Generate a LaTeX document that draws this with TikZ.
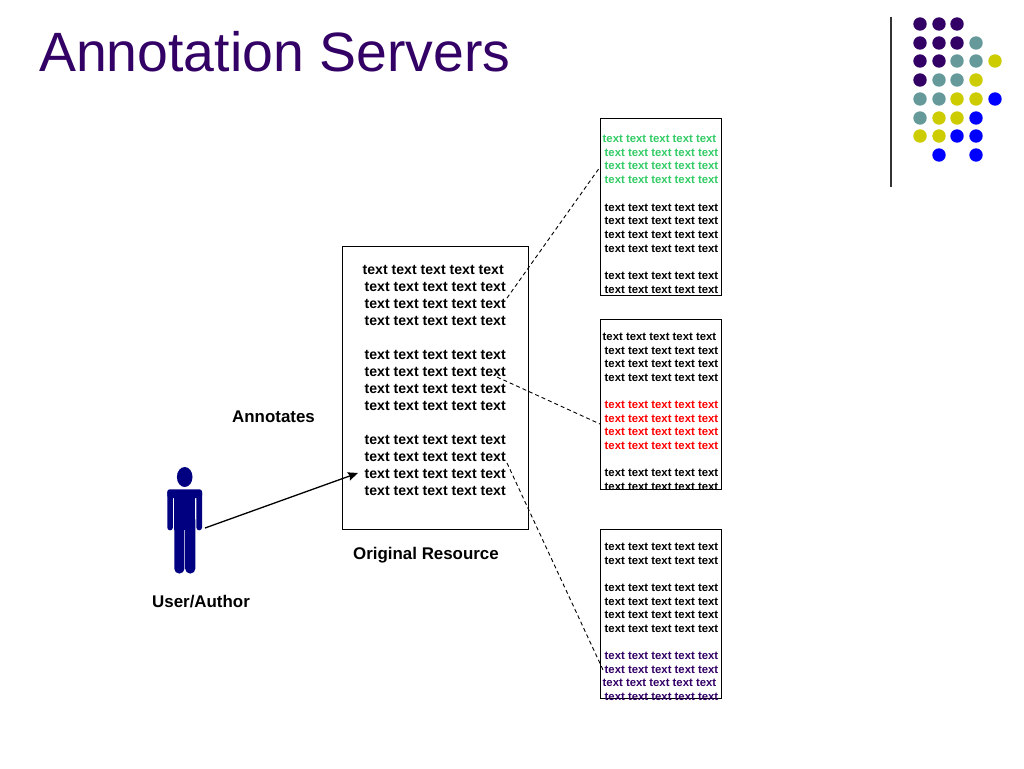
\documentclass[tikz,border=0pt]{standalone}
\usepackage{fontspec}
\setmainfont{Liberation Sans}
\definecolor{deep}{HTML}{330066}
\definecolor{teal2}{HTML}{669999}
\definecolor{yel}{HTML}{CCCC00}
\definecolor{blu}{HTML}{0000FF}
\definecolor{grn}{HTML}{33CC66}
\definecolor{navy2}{HTML}{000080}
\usetikzlibrary{arrows.meta}
\tikzset{
  x=1pt,y=-1pt,
  box/.style={draw=black,line width=1pt,minimum width=0pt,inner sep=0pt,anchor=north west},
  bigline/.style={anchor=base west,inner sep=0pt,font=\fontsize{14.1}{17}\selectfont\bfseries},
  smallline/.style={anchor=base west,inner sep=0pt,font=\fontsize{11.35}{13.7}\selectfont\bfseries},
  label/.style={anchor=base west,inner sep=0pt,font=\fontsize{16.9}{20}\selectfont\bfseries},
  dot/.style={circle,inner sep=0pt,minimum size=13.4pt},
  leader/.style={draw=black,line width=0.9pt,dash pattern=on 4pt off 3pt},
  pointer/.style={draw=black,line width=1.3pt,-{Stealth[length=10pt,width=8.5pt,inset=1.5pt]}},
}
\def\txt{text text text text text}
\begin{document}
\begin{tikzpicture}
\useasboundingbox (0,0) rectangle (1024,768);
\fill[white] (0,0) rectangle (1024,768);
% title
\node[anchor=base west,inner sep=0pt,text=deep,font=\fontsize{55.4}{60}\selectfont] (title) at (39,71) {Annotation Servers};
% decoration
\draw[draw=black!80,line width=1.1pt] (891,17) -- (891,187);
\foreach \dx/\dy/\dc [count=\i] in {
 920/24/deep,939/24/deep,957/24/deep,
 920/43/deep,939/43/deep,957/43/deep,976/43/teal2,
 920/61/deep,939/61/deep,957/61/teal2,976/61/teal2,995/61/yel,
 920/80/deep,939/80/teal2,957/80/teal2,976/80/yel,
 920/99/teal2,939/99/teal2,957/99/yel,976/99/yel,995/99/blu,
 920/118/teal2,939/118/yel,957/118/yel,976/118/blu,
 920/136/yel,939/136/yel,957/136/blu,976/136/blu,
 939/155/blu,976/155/blu}
  \node[dot,fill=\dc] (dot\i) at (\dx,\dy) {};
% boxes
\node[box,minimum width=185.5pt,minimum height=282.5pt] (orig) at (342,246) {};
\node[box,minimum width=121pt,minimum height=177pt] (b1) at (600,117.5) {};
\node[box,minimum width=121pt,minimum height=170pt] (b2) at (600,318.5) {};
\node[box,minimum width=121pt,minimum height=169pt] (b3) at (600,528.5) {};
% main text
\foreach \lx/\ly [count=\i] in {362.5/274,364.5/291,364.5/308,364.5/325,364.5/359,364.5/376,364.5/393,364.5/410,364.5/444,364.5/461,364.5/478,364.5/495}
  \node[bigline] (m\i) at (\lx,\ly) {\txt};
% box 1
\foreach \lx/\ly/\lc [count=\i] in {602.5/142/grn,604.5/156/grn,604.5/169.5/grn,604.5/183/grn,604.5/211/black,604.5/224.5/black,604.5/238/black,604.5/252/black,604.5/279/black,604.5/293/black}
  \node[smallline,text=\lc] (a\i) at (\lx,\ly) {\txt};
% box 2
\foreach \lx/\ly/\lc [count=\i] in {602.5/340/black,604.5/354/black,604.5/367.5/black,604.5/381/black,604.5/408.5/red,604.5/422/red,604.5/435.5/red,604.5/449/red,604.5/476.5/black,604.5/490/black}
  \node[smallline,text=\lc] (c\i) at (\lx,\ly) {\txt};
% box 3
\foreach \lx/\ly/\lc [count=\i] in {604.5/550/black,604.5/564/black,604.5/591/black,604.5/605/black,604.5/618.5/black,604.5/632/black,604.5/659.5/deep,604.5/673/deep,602.5/686.5/deep,604.5/700/deep}
  \node[smallline,text=\lc] (e\i) at (\lx,\ly) {\txt};
% labels
\node[label] (annot) at (232,422) {Annotates};
\node[label] (origlab) at (353,559) {Original Resource};
\node[label] (user) at (152,607) {User/Author};
% person
\begin{scope}[navy2]
  \fill (184.7,477) ellipse [x radius=7.8,y radius=10];
  \fill[rounded corners=2.5pt] (167.3,489.3) rectangle (202,498);
  \fill[rounded corners=2.7pt] (167.3,490) rectangle (172.9,530.3);
  \fill[rounded corners=2.7pt] (196.4,490) rectangle (202,530.3);
  \fill (174.3,490) rectangle (195.3,530);
  \fill[rounded corners=4.8pt] (174.3,515) rectangle (184.4,573.5);
  \fill[rounded corners=4.8pt] (185.2,515) rectangle (195.3,573.5);
  \fill (174.3,515) rectangle (195.3,528);
\end{scope}
% connectors
\coordinate (usr) at (205,528);
\coordinate (tgt) at (358,473);
\coordinate (s1) at (507,298);
\coordinate (t1) at (600,167);
\coordinate (s2) at (497,377);
\coordinate (t2) at (600,424);
\coordinate (s3) at (507,463);
\coordinate (t3) at (604,672);
\draw[pointer] (usr) -- (tgt);
\draw[leader] (s1) -- (t1);
\draw[leader] (s2) -- (t2);
\draw[leader] (s3) -- (t3);
\end{tikzpicture}
\end{document}
